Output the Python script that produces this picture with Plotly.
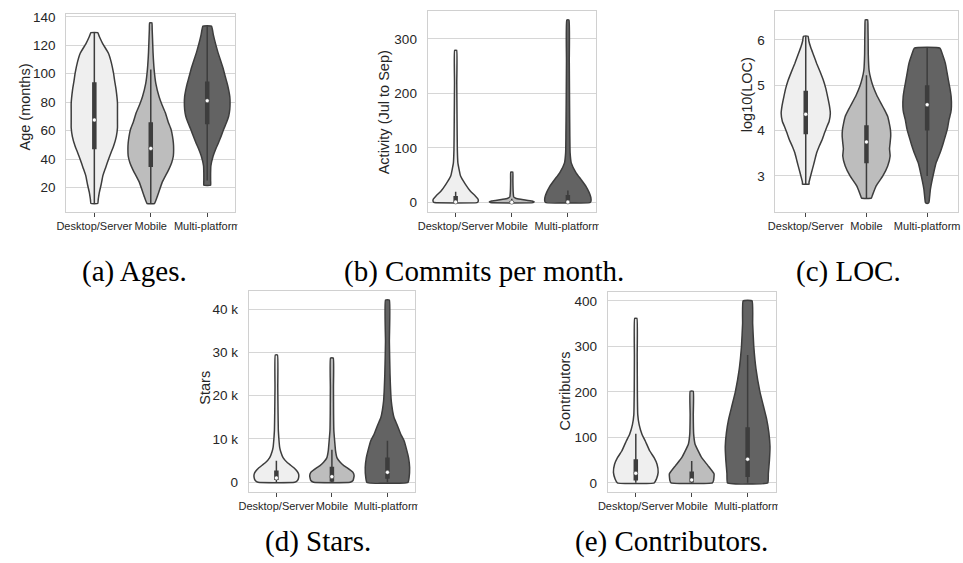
import plotly.graph_objects as go

W, H = 963, 563

categories = ["Desktop/Server", "Mobile", "Multi-platform"]
fill_colors = ["#efefef", "#bdbdbd", "#636363"]
line_color = "#3d3d3d"

# ---------------- (a) Ages ----------------
age_desk_y = [8.8, 12, 16.5, 22, 28.2, 34, 39.8, 45, 49, 56, 62, 67.7, 74, 79.4, 88.7, 95, 100.4, 108, 114.4, 121, 126, 128.8]
age_desk_w = [0.06, 0.07, 0.088, 0.12, 0.15, 0.2, 0.25, 0.3, 0.34, 0.39, 0.41, 0.41, 0.41, 0.41, 0.386, 0.36, 0.34, 0.3, 0.25, 0.15, 0.09, 0.06]
age_mob_y = [8.8, 14.2, 23.5, 32.8, 37.5, 42.2, 47, 51.5, 56, 60.8, 66, 72.4, 78, 84, 93, 102.7, 115, 126, 131, 135.8]
age_mob_w = [0.065, 0.12, 0.2, 0.32, 0.37, 0.40, 0.405, 0.40, 0.385, 0.36, 0.31, 0.26, 0.2, 0.146, 0.09, 0.06, 0.04, 0.03, 0.025, 0.02]
age_multi_y = [21.6, 25, 30, 35.2, 42.2, 47, 51.5, 56, 60.8, 65.5, 70.1, 75, 79.4, 84, 88.7, 93, 98, 104, 109.7, 115, 121.3, 127, 133.4]
age_multi_w = [0.06, 0.06, 0.06, 0.065, 0.105, 0.15, 0.2, 0.245, 0.29, 0.34, 0.38, 0.40, 0.405, 0.40, 0.38, 0.355, 0.32, 0.28, 0.234, 0.19, 0.146, 0.11, 0.076]
# box stats: low whisker, q1, median, q3, high whisker
age_desk_box = [8.8, 47, 67.5, 94, 128.8]
age_mob_box = [8.8, 34.5, 47.5, 66, 103]
age_multi_box = [25, 64.5, 81, 94.5, 133.4]

# ---------------- (b) Commits per month ----------------
act_desk_y = [0, 1.5, 6, 12.1, 21.2, 33.3, 48.5, 72.7, 97, 150, 220, 278.8]
act_desk_w = [0.38, 0.4, 0.4, 0.35, 0.26, 0.175, 0.088, 0.04, 0.03, 0.025, 0.02, 0.018]
act_mob_y = [0, 1.5, 3, 6, 8, 10.3, 20, 40, 55.8]
act_mob_w = [0.38, 0.4, 0.36, 0.16, 0.07, 0.035, 0.025, 0.02, 0.018]
act_multi_y = [0, 2, 9, 18.2, 30.3, 42.4, 54.5, 72.7, 91, 121, 182, 260, 334.5]
act_multi_w = [0.39, 0.41, 0.41, 0.38, 0.32, 0.234, 0.146, 0.06, 0.04, 0.035, 0.03, 0.025, 0.02]
act_desk_box = [0, 0.5, 1, 12, 20]
act_mob_box = [0, 0, 0.5, 3, 7]
act_multi_box = [0, 0.5, 1, 14, 22]

# ---------------- (c) LOC ----------------
loc_desk_y = [2.82, 2.86, 3.0, 3.15, 3.33, 3.51, 3.65, 3.80, 3.95, 4.09, 4.2, 4.38, 4.55, 4.75, 4.93, 5.11, 5.3, 5.48, 5.66, 5.84, 5.98, 6.08]
loc_desk_w = [0.054, 0.054, 0.08, 0.11, 0.145, 0.18, 0.22, 0.27, 0.31, 0.35, 0.385, 0.405, 0.39, 0.36, 0.33, 0.29, 0.235, 0.18, 0.13, 0.08, 0.05, 0.038]
loc_mob_y = [2.51, 2.57, 2.78, 3.0, 3.22, 3.44, 3.6, 3.73, 3.88, 4.02, 4.17, 4.31, 4.45, 4.6, 4.78, 4.97, 5.15, 5.33, 5.69, 6.0, 6.25, 6.44]
loc_mob_w = [0.08, 0.097, 0.16, 0.27, 0.35, 0.39, 0.38, 0.39, 0.40, 0.395, 0.375, 0.35, 0.3, 0.24, 0.17, 0.11, 0.07, 0.043, 0.03, 0.028, 0.025, 0.02]
loc_multi_y = [2.40, 2.42, 2.71, 3.07, 3.3, 3.5, 3.7, 3.88, 4.05, 4.24, 4.4, 4.53, 4.75, 4.93, 5.11, 5.3, 5.48, 5.65, 5.82]
loc_multi_w = [0.02, 0.03, 0.054, 0.108, 0.15, 0.21, 0.26, 0.3, 0.335, 0.36, 0.39, 0.40, 0.395, 0.375, 0.35, 0.325, 0.3, 0.26, 0.21]
loc_desk_box = [2.82, 3.92, 4.36, 4.88, 6.08]
loc_mob_box = [2.51, 3.28, 3.75, 4.12, 5.22]
loc_multi_box = [3.0, 4.0, 4.57, 5.0, 5.82]

# ---------------- (d) Stars ----------------
star_desk_y = [0, 400, 1000, 1900, 2600, 3400, 4500, 5700, 7000, 8000, 10000, 12000, 16000, 22000, 29400]
star_desk_w = [0.33, 0.38, 0.40, 0.40, 0.37, 0.31, 0.2, 0.12, 0.08, 0.06, 0.045, 0.035, 0.03, 0.025, 0.02]
star_mob_y = [0, 400, 1500, 2300, 3400, 3800, 4600, 5700, 7300, 8000, 11900, 16000, 22000, 28700]
star_mob_w = [0.33, 0.38, 0.40, 0.38, 0.27, 0.22, 0.15, 0.09, 0.065, 0.06, 0.035, 0.03, 0.028, 0.025]
star_multi_y = [0, 1100, 3400, 5700, 7300, 9600, 11100, 13400, 14900, 18700, 24900, 32500, 42100]
star_multi_w = [0.37, 0.39, 0.40, 0.38, 0.35, 0.3, 0.24, 0.17, 0.12, 0.07, 0.047, 0.035, 0.035]
star_desk_box = [0, 550, 1000, 2700, 5000]
star_mob_box = [0, 100, 1300, 3600, 7500]
star_multi_box = [0, 800, 2300, 5700, 9600]
star_ticks = [0, 10000, 20000, 30000, 40000]
star_ticktext = ["0", "10 k", "20 k", "30 k", "40 k"]

# ---------------- (e) Contributors ----------------
contr_desk_y = [0, 8.7, 23, 41, 55, 70, 92, 107, 128, 150, 200, 280, 361.6]
contr_desk_w = [0.33, 0.37, 0.40, 0.38, 0.33, 0.25, 0.17, 0.11, 0.06, 0.035, 0.028, 0.025, 0.02]
contr_mob_y = [0, 5, 19.7, 37.8, 56, 85, 107, 150, 201.5]
contr_mob_w = [0.37, 0.39, 0.40, 0.29, 0.176, 0.06, 0.035, 0.028, 0.028]
contr_multi_y = [0, 20, 50, 80, 110, 140, 170, 200, 250, 300, 350, 400]
contr_multi_w = [0.36, 0.37, 0.39, 0.40, 0.38, 0.34, 0.28, 0.22, 0.15, 0.11, 0.09, 0.08]
contr_desk_box = [0, 5, 21, 52, 108]
contr_mob_box = [0, 1, 6.5, 25, 48]
contr_multi_box = [0, 13, 52, 122, 281]

# ---------------- layout geometry (pixels) ----------------
def px_x(p):
    return p / W

def px_y(p):
    return 1 - p / H

panels = [
    dict(x=(57, 229), y=(10, 209.3), yrange=[3, 142],
         violins=[(age_desk_y, age_desk_w, age_desk_box), (age_mob_y, age_mob_w, age_mob_box), (age_multi_y, age_multi_w, age_multi_box)],
         ytitle="Age (months)", ytitle_pos=(15.5, 104), tickvals=[20, 40, 60, 80, 100, 120, 140], ticktext=None,
         caption="(a) Ages.", cap_pos=(126, 269)),
    dict(x=(424.2, 595.2), y=(7.3, 209.3), yrange=[-16.9, 350.4],
         violins=[(act_desk_y, act_desk_w, act_desk_box), (act_mob_y, act_mob_w, act_mob_box), (act_multi_y, act_multi_w, act_multi_box)],
         ytitle="Activity (Jul to Sep)", ytitle_pos=(380, 109), tickvals=[0, 100, 200, 300], ticktext=None,
         caption="(b) Commits per month.", cap_pos=(482, 269)),
    dict(x=(777.5, 962.5), y=(7.3, 209.3), yrange=[2.21, 6.63],
         violins=[(loc_desk_y, loc_desk_w, loc_desk_box), (loc_mob_y, loc_mob_w, loc_mob_box), (loc_multi_y, loc_multi_w, loc_multi_box)],
         ytitle="log10(LOC)", ytitle_pos=(749.5, 91), tickvals=[3, 4, 5, 6], ticktext=None,
         caption="(c) LOC.", cap_pos=(852, 269)),
    dict(x=(242.4, 411.6), y=(289.4, 491), yrange=[-2130, 44100],
         violins=[(star_desk_y, star_desk_w, star_desk_box), (star_mob_y, star_mob_w, star_mob_box), (star_multi_y, star_multi_w, star_multi_box)],
         ytitle="Stars", ytitle_pos=(198.5, 386), tickvals=star_ticks, ticktext=star_ticktext,
         caption="(d) Stars.", cap_pos=(313, 541)),
    dict(x=(607.3, 777.7), y=(289.8, 491), yrange=[-19, 420],
         violins=[(contr_desk_y, contr_desk_w, contr_desk_box), (contr_mob_y, contr_mob_w, contr_mob_box), (contr_multi_y, contr_multi_w, contr_multi_box)],
         ytitle="Contributors", ytitle_pos=(564, 390), tickvals=[0, 100, 200, 300, 400], ticktext=None,
         caption="(e) Contributors.", cap_pos=(672, 541)),
]

fig = go.Figure()
annotations = []
layout_axes = {}

for i, p in enumerate(panels):
    n = i + 1
    xa = "x" if n == 1 else f"x{n}"
    ya = "y" if n == 1 else f"y{n}"
    for ci, (vy, vw, box) in enumerate(p["violins"]):
        xs = [ci + w for w in vw] + [ci - w for w in reversed(vw)] + [ci + vw[0]]
        ys = list(vy) + list(reversed(vy)) + [vy[0]]
        fig.add_trace(go.Scatter(x=xs, y=ys, xaxis=xa, yaxis=ya, mode="lines",
                                 fill="toself", fillcolor=fill_colors[ci],
                                 line=dict(color=line_color, width=1.5, shape="spline", smoothing=0.35),
                                 hoverinfo="skip", showlegend=False))
        lo, q1, med, q3, hi = box
        fig.add_trace(go.Scatter(x=[ci, ci], y=[lo, hi], xaxis=xa, yaxis=ya, mode="lines",
                                 line=dict(color=line_color, width=1.5), hoverinfo="skip", showlegend=False))
        fig.add_trace(go.Scatter(x=[ci, ci], y=[q1, q3], xaxis=xa, yaxis=ya, mode="lines",
                                 line=dict(color=line_color, width=4.5), hoverinfo="skip", showlegend=False))
        fig.add_trace(go.Scatter(x=[ci], y=[med], xaxis=xa, yaxis=ya, mode="markers",
                                 marker=dict(color="white", size=4, line=dict(color=line_color, width=0.5)),
                                 hoverinfo="skip", showlegend=False))
    xkey = "xaxis" if n == 1 else f"xaxis{n}"
    ykey = "yaxis" if n == 1 else f"yaxis{n}"
    layout_axes[xkey] = dict(domain=[px_x(p["x"][0]), px_x(p["x"][1])], anchor=ya, range=[-0.5, 2.5],
                             tickvals=[0, 1, 2], ticktext=categories, tickangle=0, showgrid=False, zeroline=False,
                             showline=True, linecolor="#d0d0d0", linewidth=1, mirror=True,
                             ticks="outside", ticklen=4, tickwidth=1.2, tickcolor="#444444",
                             tickfont=dict(family="Liberation Sans", size=11, color="#262626"))
    ytk = dict(tickvals=p["tickvals"])
    if p["ticktext"] is not None:
        ytk["ticktext"] = p["ticktext"]
    layout_axes[ykey] = dict(domain=[px_y(p["y"][1]), px_y(p["y"][0])], anchor=xa, range=p["yrange"],
                             showgrid=True, gridcolor="#d6d6d6", gridwidth=1, zeroline=False,
                             showline=True, linecolor="#d0d0d0", linewidth=1, mirror=True, ticks="",
                             ticklabelstandoff=7,
                             tickfont=dict(family="Liberation Sans", size=13.5, color="#262626"), **ytk)
    annotations.append(dict(text=p["ytitle"], xref="paper", yref="paper",
                            x=px_x(p["ytitle_pos"][0]), y=px_y(p["ytitle_pos"][1]),
                            showarrow=False, textangle=-90, xanchor="center", yanchor="middle",
                            font=dict(family="Liberation Sans", size=14.5, color="#262626")))
    annotations.append(dict(text=p["caption"], xref="paper", yref="paper",
                            x=px_x(p["cap_pos"][0]), y=px_y(p["cap_pos"][1]),
                            showarrow=False, xanchor="center", yanchor="middle",
                            font=dict(family="Liberation Serif", size=29, color="#000000")))

# white masks emulating the cropped sub-figures
masks = [(231, 0, 368, 228), (598, 0, 742, 228), (414, 286, 560, 522), (780, 286, 963, 522)]
shapes = [dict(type="rect", xref="paper", yref="paper", x0=px_x(a), x1=px_x(c), y0=px_y(d), y1=px_y(b),
               fillcolor="white", line=dict(width=0), layer="above") for a, b, c, d in masks]

fig.update_layout(width=W, height=H, margin=dict(l=0, r=0, t=0, b=0), paper_bgcolor="white",
                  plot_bgcolor="white", showlegend=False, annotations=annotations, shapes=shapes, **layout_axes)

fig.write_html("out.html")
